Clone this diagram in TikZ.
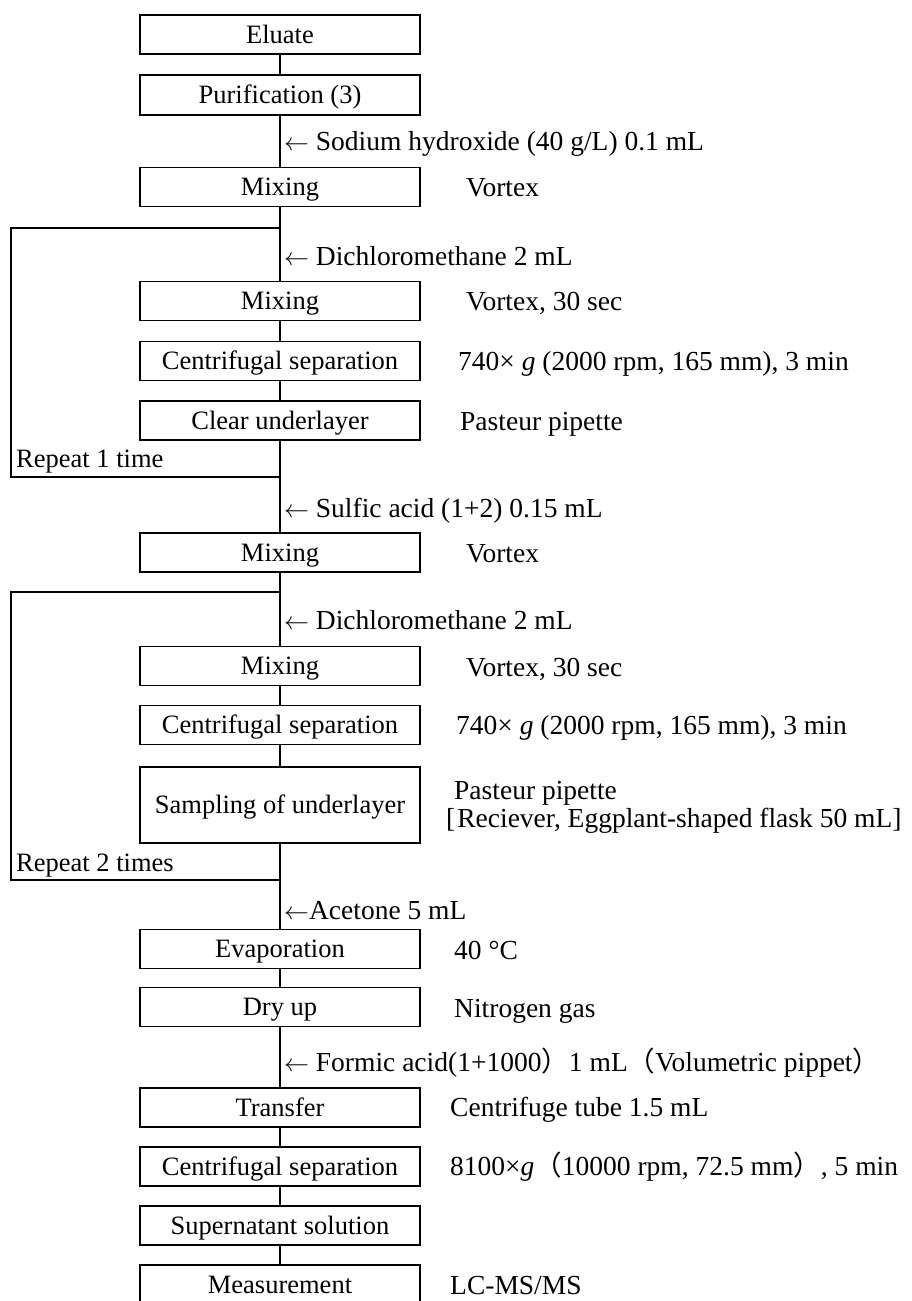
\documentclass[tikz,border=0pt]{standalone}
\usepackage{fontspec}
\setmainfont{Liberation Serif}
\newfontfamily\cjk{Noto Sans CJK JP}
\newcommand\myfs{\fontsize{26.5}{28}\selectfont}
\newcommand\mysfs{\fontsize{27.5}{28}\selectfont}
\begin{document}
\begin{tikzpicture}[x=1pt,y=-1pt,
  box/.style={draw, line width=1.8pt, minimum width=280pt, minimum height=39pt,
    inner sep=0pt, text height=23pt, text depth=6pt, font=\myfs},
  conn/.style={line width=1.8pt},
  lab/.style={anchor=base west, inner sep=0pt, font=\mysfs},
  rep/.style={anchor=base west, inner sep=0pt, font=\myfs},
  side/.style={anchor=base west, inner sep=0pt, font=\mysfs}]
\clip (0,0) rectangle (912,1301);
\fill[white] (0,0) rectangle (912,1301);
% boxes
\node[box] (n1) at (280,34.5) {Eluate};
\node[box, minimum height=40pt] (n2) at (280,95) {Purification (3)};
\node[box] (n3) at (280,187) {Mixing};
\node[box] (n4) at (280,301) {Mixing};
\node[box] (n5) at (280,361) {Centrifugal separation};
\node[box] (n6) at (280,420.5) {Clear underlayer};
\node[box] (n7) at (280,552.5) {Mixing};
\node[box] (n8) at (280,666) {Mixing};
\node[box] (n9) at (280,725) {Centrifugal separation};
\node[box, minimum height=76pt] (n10) at (280,805) {Sampling of underlayer};
\node[box] (n11) at (280,949) {Evaporation};
\node[box] (n12) at (280,1007) {Dry up};
\node[box] (n13) at (280,1107.5) {Transfer};
\node[box] (n14) at (280,1166.5) {Centrifugal separation};
\node[box] (n15) at (280,1225.5) {Supernatant solution};
\node[box] (n16) at (280,1284.5) {Measurement};
% main connectors
\draw[conn] (n1.south) -- (n2.north);
\draw[conn] (n2.south) -- (n3.north);
\draw[conn] (n3.south) -- (n4.north);
\draw[conn] (n4.south) -- (n5.north);
\draw[conn] (n5.south) -- (n6.north);
\draw[conn] (n6.south) -- (n7.north);
\draw[conn] (n7.south) -- (n8.north);
\draw[conn] (n8.south) -- (n9.north);
\draw[conn] (n9.south) -- (n10.north);
\draw[conn] (n10.south) -- (n11.north);
\draw[conn] (n11.south) -- (n12.north);
\draw[conn] (n12.south) -- (n13.north);
\draw[conn] (n13.south) -- (n14.north);
\draw[conn] (n14.south) -- (n15.north);
\draw[conn] (n15.south) -- (n16.north);
% repeat loops
\coordinate (a1) at (280,228);
\coordinate (a2) at (11,228);
\coordinate (a3) at (11,477);
\coordinate (a4) at (280,477);
\draw[conn] (a1) -- (a2) -- (a3) -- (a4);
\coordinate (b1) at (280,592);
\coordinate (b2) at (11,592);
\coordinate (b3) at (11,880);
\coordinate (b4) at (280,880);
\draw[conn] (b1) -- (b2) -- (b3) -- (b4);
\node[rep] (r1) at (16,467) {Repeat 1 time};
\node[rep] (r2) at (16,871) {Repeat 2 times};
% reagent labels
\node[lab] (l1) at (284,150) {$\leftarrow$ Sodium hydroxide (40 g/L) 0.1 mL};
\node[lab] (l2) at (284,265) {$\leftarrow$ Dichloromethane 2 mL};
\node[lab] (l3) at (284,517) {$\leftarrow$ Sulfic acid (1+2) 0.15 mL};
\node[lab] (l4) at (284,629) {$\leftarrow$ Dichloromethane 2 mL};
\node[lab] (l5) at (284,919) {$\leftarrow$Acetone 5 mL};
\node[lab] (l6) at (284,1071) {$\leftarrow$ Formic acid(1+1000{\cjk ）}1 mL{\cjk （}Volumetric pippet{\cjk ）}\hspace{-12pt}};
% side notes
\node[side] (s1) at (466,196) {Vortex};
\node[side] (s2) at (466,310) {Vortex, 30 sec};
\node[side] (s3) at (458,370) {740\texttimes{} \textit{g} (2000 rpm, 165 mm), 3 min};
\node[side] (s4) at (460,430) {Pasteur pipette};
\node[side] (s5) at (466,562) {Vortex};
\node[side] (s6) at (466,676) {Vortex, 30 sec};
\node[side] (s7) at (456,734) {740\texttimes{} \textit{g} (2000 rpm, 165 mm), 3 min};
\node[side] (s8) at (454,799) {Pasteur pipette};
\node[side] (s9) at (446,827) {[\hspace{2pt}Reciever, Eggplant-shaped flask 50 mL]};
\node[side] (s10) at (454,959) {40 \textdegree C};
\node[side] (s11) at (454,1017) {Nitrogen gas};
\node[side] (s12) at (450,1116) {Centrifuge tube 1.5 mL};
\node[side] (s13) at (450,1175) {8100\texttimes\textit{g}{\cjk （}10000 rpm, 72.5 mm{\cjk ）}, 5 min};
\node[side] (s14) at (450,1294) {LC-MS/MS};
\end{tikzpicture}
\end{document}
